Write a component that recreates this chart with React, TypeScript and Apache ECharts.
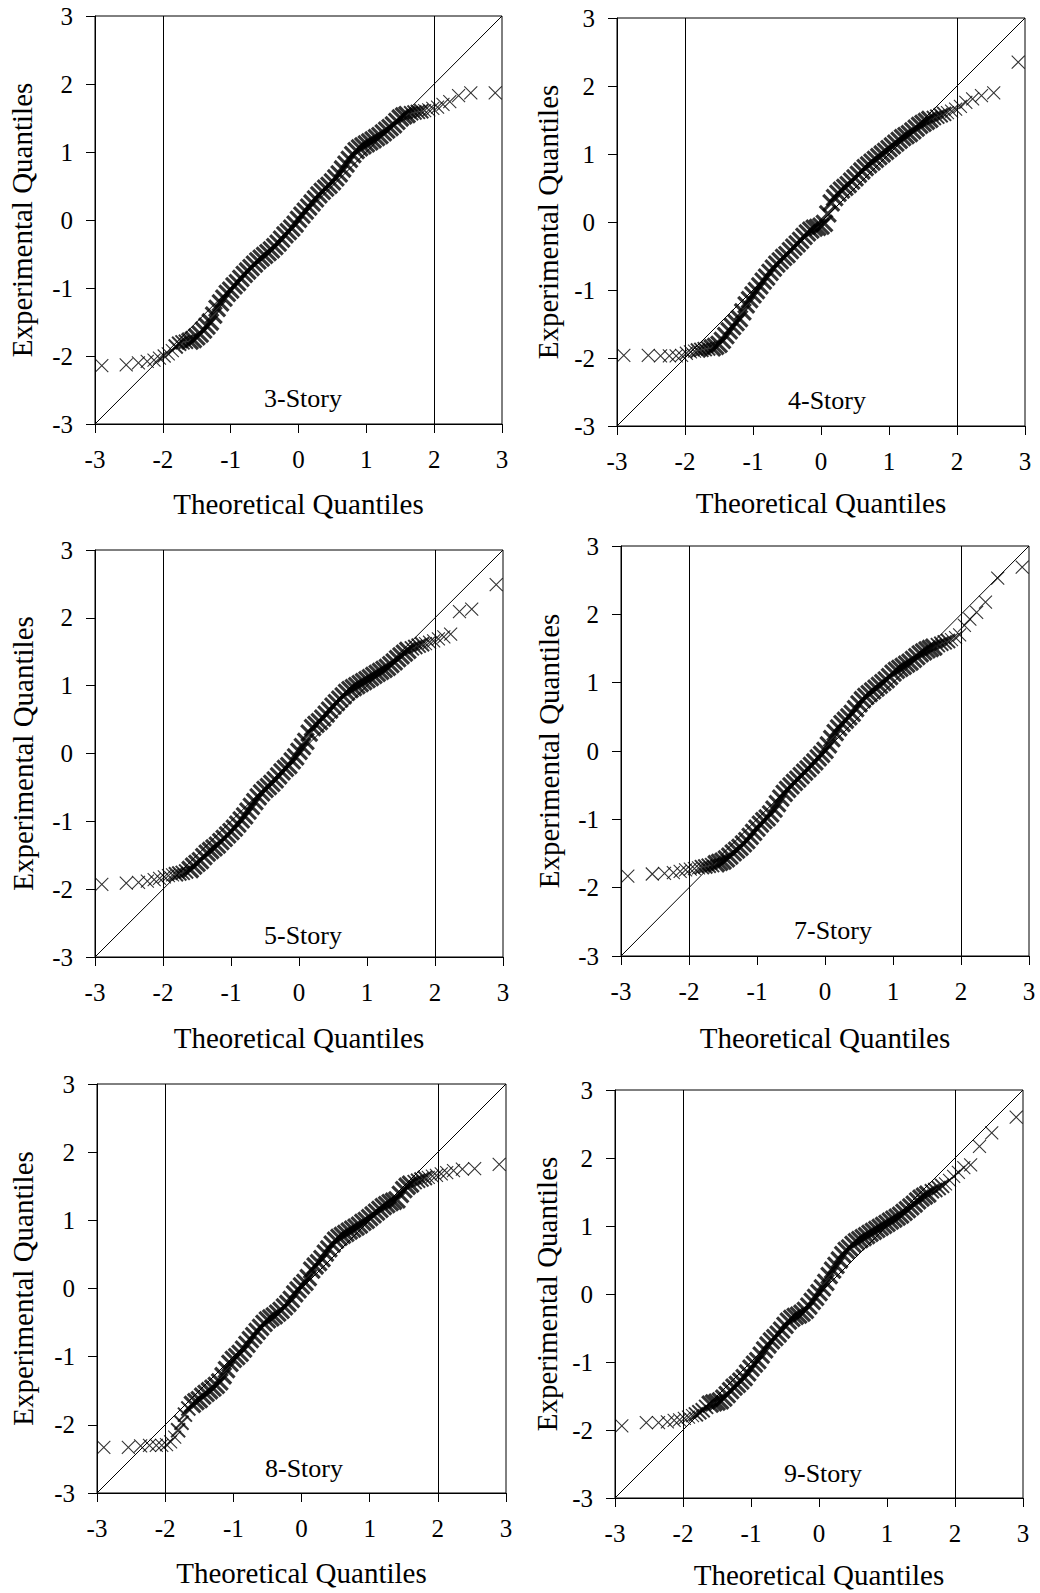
import React, { useEffect, useRef } from 'react';
import * as echarts from 'echarts';

// ---------- data ----------
const TICKS = [-3, -2, -1, 0, 1, 2, 3];
const LIMIT_LINES = [-2, 2];
const X_TITLE = 'Theoretical Quantiles';
const Y_TITLE = 'Experimental Quantiles';
const PANEL_NAMES = ['3-Story', '4-Story', '5-Story', '7-Story', '8-Story', '9-Story'];

// theoretical quantiles (shared by all panels)
const THEORETICAL = [
  -2.90, -2.54, -2.36, -2.23, -2.13, -2.05, -1.98, -1.92, -1.86, -1.81, -1.76, -1.71, -1.66,
  -1.60, -1.55, -1.50, -1.45, -1.40, -1.35, -1.30, -1.25, -1.20, -1.15,
  -1.10, -1.05, -1.00, -0.95, -0.90, -0.85, -0.80, -0.75, -0.70, -0.65,
  -0.60, -0.55, -0.50, -0.45, -0.40, -0.35, -0.30, -0.25, -0.20, -0.15,
  -0.10, -0.05, 0.00, 0.05, 0.10, 0.15, 0.20, 0.25, 0.30, 0.35,
  0.40, 0.45, 0.50, 0.55, 0.60, 0.65, 0.70, 0.75, 0.80, 0.85,
  0.90, 0.95, 1.00, 1.05, 1.10, 1.15, 1.20, 1.25, 1.30, 1.35,
  1.40, 1.45, 1.50, 1.55, 1.60,
  1.66, 1.71, 1.76, 1.81, 1.86, 1.92, 1.98, 2.05, 2.13, 2.23, 2.36, 2.54, 2.90,
];

const STORY_3 = [
  -2.14, -2.13, -2.10, -2.08, -2.06, -2.03, -2.00, -1.97, -1.92, -1.86, -1.82, -1.80, -1.79,
  -1.78, -1.76, -1.72, -1.68, -1.62, -1.56, -1.50, -1.40, -1.30, -1.22,
  -1.15, -1.08, -1.03, -0.97, -0.92, -0.86, -0.80, -0.75, -0.70, -0.65,
  -0.60, -0.56, -0.52, -0.48, -0.44, -0.39, -0.34, -0.28, -0.22, -0.17,
  -0.12, -0.06, 0.01, 0.07, 0.13, 0.19, 0.25, 0.31, 0.37, 0.42,
  0.47, 0.51, 0.56, 0.62, 0.68, 0.75, 0.82, 0.89, 0.96, 1.02,
  1.06, 1.09, 1.12, 1.15, 1.18, 1.21, 1.24, 1.28, 1.32, 1.36,
  1.40, 1.45, 1.50, 1.53, 1.55,
  1.57, 1.58, 1.59, 1.60, 1.61, 1.62, 1.64, 1.66, 1.70, 1.74, 1.83, 1.87, 1.87,
];

const STORY_4 = [
  -1.96, -1.96, -1.97, -1.97, -1.97, -1.96, -1.93, -1.91, -1.90, -1.89, -1.88, -1.87, -1.86,
  -1.85, -1.83, -1.80, -1.74, -1.67, -1.60, -1.54, -1.48, -1.42, -1.32,
  -1.22, -1.14, -1.07, -1.01, -0.94, -0.87, -0.81, -0.74, -0.68, -0.62,
  -0.57, -0.52, -0.48, -0.42, -0.37, -0.32, -0.27, -0.21, -0.16, -0.12,
  -0.09, -0.08, -0.06, -0.02, 0.12, 0.28, 0.36, 0.42, 0.47, 0.51,
  0.55, 0.60, 0.65, 0.70, 0.75, 0.80, 0.84, 0.88, 0.92, 0.96,
  1.00, 1.04, 1.08, 1.12, 1.16, 1.20, 1.24, 1.27, 1.30, 1.34,
  1.38, 1.42, 1.45, 1.48, 1.51,
  1.53, 1.55, 1.57, 1.59, 1.61, 1.63, 1.66, 1.70, 1.76, 1.81, 1.86, 1.90, 2.35,
];

const STORY_5 = [
  -1.93, -1.91, -1.90, -1.88, -1.86, -1.84, -1.82, -1.80, -1.79, -1.78, -1.77, -1.76, -1.74,
  -1.71, -1.66, -1.62, -1.58, -1.52, -1.47, -1.43, -1.39, -1.35, -1.30,
  -1.25, -1.20, -1.15, -1.10, -1.04, -0.98, -0.92, -0.85, -0.78, -0.71,
  -0.64, -0.58, -0.53, -0.49, -0.44, -0.39, -0.33, -0.27, -0.22, -0.18,
  -0.11, -0.05, 0.03, 0.10, 0.18, 0.30, 0.38, 0.43, 0.47, 0.52,
  0.58, 0.64, 0.70, 0.75, 0.80, 0.85, 0.90, 0.94, 0.97, 1.00,
  1.03, 1.06, 1.09, 1.12, 1.15, 1.18, 1.21, 1.24, 1.27, 1.31,
  1.35, 1.40, 1.44, 1.48, 1.52,
  1.55, 1.57, 1.59, 1.61, 1.62, 1.64, 1.66, 1.69, 1.72, 1.76, 2.09, 2.13, 2.49,
];

const STORY_7 = [
  -1.83, -1.80, -1.79, -1.78, -1.76, -1.74, -1.73, -1.72, -1.71, -1.70, -1.69, -1.68, -1.67,
  -1.65, -1.63, -1.61, -1.58, -1.54, -1.49, -1.45, -1.41, -1.36, -1.31,
  -1.25, -1.19, -1.13, -1.07, -1.02, -0.98, -0.92, -0.85, -0.77, -0.69,
  -0.62, -0.56, -0.51, -0.46, -0.41, -0.36, -0.31, -0.26, -0.21, -0.16,
  -0.10, -0.05, 0.01, 0.09, 0.18, 0.27, 0.34, 0.40, 0.45, 0.50,
  0.55, 0.62, 0.69, 0.75, 0.80, 0.84, 0.88, 0.92, 0.96, 1.00,
  1.04, 1.09, 1.14, 1.18, 1.21, 1.24, 1.27, 1.30, 1.34, 1.38,
  1.42, 1.45, 1.48, 1.50, 1.52,
  1.55, 1.57, 1.59, 1.61, 1.63, 1.66, 1.70, 1.84, 1.93, 2.03, 2.18, 2.53, 2.69,
];

const STORY_8 = [
  -2.33, -2.33, -2.31, -2.30, -2.30, -2.30, -2.29, -2.25, -2.18, -2.08, -1.97, -1.85, -1.76,
  -1.70, -1.66, -1.63, -1.58, -1.54, -1.50, -1.46, -1.42, -1.37, -1.28,
  -1.19, -1.10, -1.04, -1.00, -0.95, -0.89, -0.82, -0.75, -0.69, -0.63,
  -0.57, -0.51, -0.46, -0.43, -0.40, -0.36, -0.32, -0.27, -0.22, -0.16,
  -0.08, -0.02, 0.04, 0.09, 0.16, 0.27, 0.33, 0.38, 0.44, 0.52,
  0.58, 0.65, 0.71, 0.75, 0.78, 0.81, 0.84, 0.87, 0.90, 0.93,
  0.97, 1.00, 1.04, 1.08, 1.12, 1.16, 1.20, 1.23, 1.26, 1.28,
  1.30, 1.38, 1.45, 1.50, 1.53,
  1.56, 1.58, 1.60, 1.62, 1.63, 1.65, 1.66, 1.68, 1.70, 1.73, 1.75, 1.76, 1.82,
];

const STORY_9 = [
  -1.94, -1.89, -1.89, -1.88, -1.86, -1.85, -1.83, -1.81, -1.79, -1.77, -1.74, -1.71, -1.66,
  -1.62, -1.60, -1.59, -1.57, -1.53, -1.48, -1.42, -1.37, -1.33, -1.28,
  -1.23, -1.16, -1.09, -1.03, -0.98, -0.90, -0.82, -0.75, -0.69, -0.64,
  -0.59, -0.53, -0.46, -0.40, -0.36, -0.33, -0.31, -0.28, -0.24, -0.18,
  -0.11, -0.05, 0.02, 0.09, 0.17, 0.27, 0.35, 0.42, 0.50, 0.58,
  0.64, 0.68, 0.73, 0.77, 0.80, 0.83, 0.86, 0.89, 0.92, 0.95,
  0.98, 1.01, 1.04, 1.07, 1.10, 1.13, 1.16, 1.20, 1.24, 1.28,
  1.32, 1.37, 1.41, 1.44, 1.47,
  1.51, 1.53, 1.56, 1.59, 1.62, 1.67, 1.73, 1.79, 1.86, 1.90, 2.17, 2.37, 2.60,
];

const EXPERIMENTAL = [STORY_3, STORY_4, STORY_5, STORY_7, STORY_8, STORY_9];

// ---------- layout (pixels) ----------
const LAYOUT = [
  { left: 95, top: 16, width: 407, height: 408, lx: 303, ly: 398, xGap: 80, yGap: 73 },
  { left: 617, top: 18, width: 408, height: 408, lx: 827, ly: 400, xGap: 77, yGap: 69 },
  { left: 95, top: 550, width: 408, height: 407, lx: 303, ly: 935, xGap: 81, yGap: 72 },
  { left: 621, top: 546, width: 408, height: 410, lx: 833, ly: 930, xGap: 82, yGap: 72 },
  { left: 97, top: 1084, width: 409, height: 409, lx: 304, ly: 1468, xGap: 80, yGap: 74 },
  { left: 615, top: 1090, width: 408, height: 408, lx: 823, ly: 1473, xGap: 77, yGap: 68 },
];
// number of sparse (thin-stroked) points at each end
const TAIL_COUNT = 9;

const FONT = '"Liberation Serif", "Times New Roman", Times, serif';
const CROSS = 'path://M0,0L10,10M10,0L0,10';

function buildOption() {
  const lo = TICKS[0];
  const hi = TICKS[TICKS.length - 1];
  const axisCommon = {
    type: 'value',
    min: lo,
    max: hi,
    interval: 1,
    splitLine: { show: false },
    axisLine: { show: true, onZero: false, lineStyle: { color: '#000', width: 1 } },
    axisTick: { show: true, inside: false, length: 9, lineStyle: { color: '#000', width: 1 } },
  };
  const nameStyle = { fontFamily: FONT, fontSize: 29, color: '#000', verticalAlign: 'middle' };
  const thin = { color: 'rgba(0,0,0,0)', borderColor: '#000', borderWidth: 1.1 };
  const medium = { color: 'rgba(0,0,0,0)', borderColor: '#000', borderWidth: 2.0 };
  const bold = { color: 'rgba(0,0,0,0)', borderColor: '#000', borderWidth: 3.2 };

  return {
    animation: false,
    backgroundColor: '#fff',
    grid: LAYOUT.map((l) => ({
      left: l.left,
      top: l.top,
      width: l.width,
      height: l.height,
      show: true,
      borderColor: '#000',
      borderWidth: 1,
      backgroundColor: 'transparent',
    })),
    xAxis: LAYOUT.map((l, i) => ({
      ...axisCommon,
      gridIndex: i,
      position: 'bottom',
      name: X_TITLE,
      nameLocation: 'middle',
      nameGap: l.xGap,
      nameTextStyle: nameStyle,
      axisLabel: {
        fontFamily: FONT,
        fontSize: 25,
        color: '#000',
        margin: 35,
        verticalAlign: 'middle',
        formatter: (v: number) => String(v),
      },
    })),
    yAxis: LAYOUT.map((l, i) => ({
      ...axisCommon,
      gridIndex: i,
      position: 'left',
      name: Y_TITLE,
      nameLocation: 'middle',
      nameRotate: 90,
      nameGap: l.yGap,
      nameTextStyle: nameStyle,
      axisLabel: {
        fontFamily: FONT,
        fontSize: 25,
        color: '#000',
        margin: 22,
        formatter: (v: number) => String(v),
      },
    })),
    series: EXPERIMENTAL.map((ys, i) => {
      const n = Math.min(ys.length, THEORETICAL.length);
      const data = [];
      for (let k = 0; k < n; k++) {
        const edge = Math.min(k, n - 1 - k);
        let style = bold;
        let size = 16;
        if (edge < TAIL_COUNT) {
          style = thin;
          size = 13;
        } else if (edge < 13) {
          style = medium;
          size = 14;
        }
        data.push({ value: [THEORETICAL[k], ys[k]], symbolSize: size, itemStyle: style });
      }
      return {
        type: 'scatter',
        xAxisIndex: i,
        yAxisIndex: i,
        symbol: CROSS,
        symbolSize: 13,
        silent: true,
        itemStyle: thin,
        data,
        markLine: {
          silent: true,
          symbol: ['none', 'none'],
          label: { show: false },
          lineStyle: { color: '#000', type: 'solid', width: 1 },
          emphasis: { disabled: true },
          data: [
            [{ coord: [lo, lo] }, { coord: [hi, hi] }],
            { xAxis: LIMIT_LINES[0] },
            { xAxis: LIMIT_LINES[1] },
          ],
        },
      };
    }),
    graphic: LAYOUT.map((l, i) => ({
      type: 'text',
      x: l.lx,
      y: l.ly,
      z: 100,
      silent: true,
      style: {
        text: PANEL_NAMES[i],
        font: `26px ${FONT}`,
        fill: '#000',
        textAlign: 'center',
        textVerticalAlign: 'middle',
        align: 'center',
        verticalAlign: 'middle',
      },
    })),
  };
}

export default function App() {
  const ref = useRef<HTMLDivElement | null>(null);
  useEffect(() => {
    if (!ref.current) return;
    const chart = echarts.init(ref.current, undefined, { renderer: 'svg' });
    chart.setOption(buildOption() as any);
    return () => chart.dispose();
  }, []);
  return (
    <div
      ref={ref}
      style={{ position: 'absolute', left: 0, top: 0, width: 1040, height: 1593, background: '#fff' }}
    />
  );
}
